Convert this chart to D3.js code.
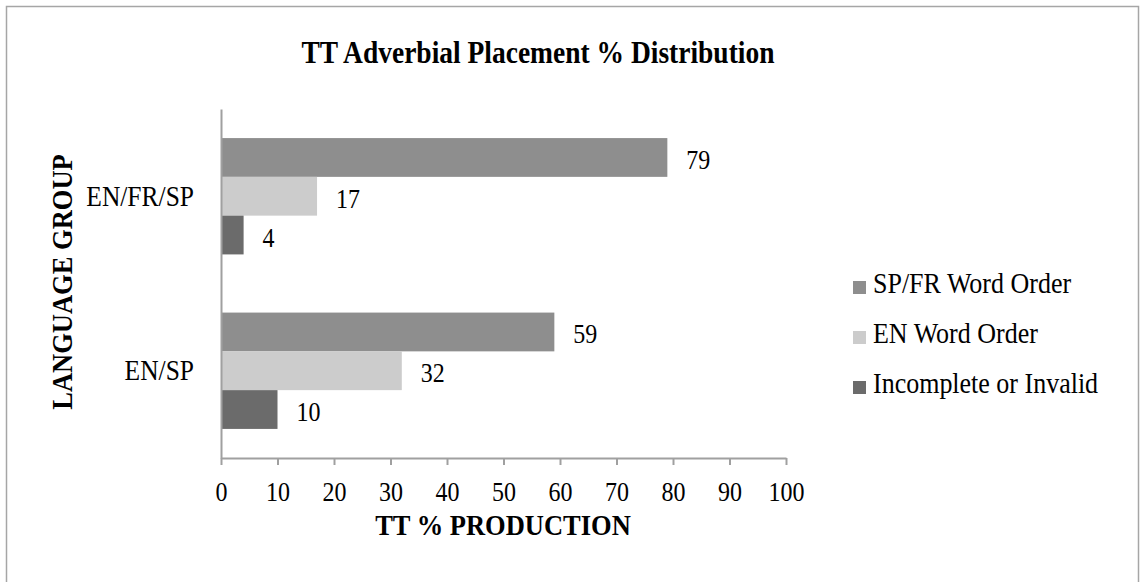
<!DOCTYPE html>
<html>
<head>
<meta charset="utf-8">
<script src="https://cdn.jsdelivr.net/npm/d3@7"></script>
<style>
body{margin:0;background:#fff;}
text{font-family:"Liberation Serif","Times New Roman",serif;fill:#000;}
</style>
</head>
<body>
<div id="chart"></div>
<script>
// data
const groups=["EN/FR/SP","EN/SP"];
const seriesNames=["SP/FR Word Order","EN Word Order","Incomplete or Invalid"];
const spfrValues=[79,59];
const enValues=[17,32];
const incompleteValues=[4,10];
const xTicks=[0,10,20,30,40,50,60,70,80,90,100];
const colors=["#8e8e8e","#cccccc","#6b6b6b"];

const allSeries=[spfrValues,enValues,incompleteValues];

const width=1140;
const height=582;
//text in the original looks a bit taller than wide
const SY=1.15;

const svg=d3.select("#chart")
    .append("svg")
    .attr("width",width)
    .attr("height",height);

//place a text with its baseline at (tx,ty), stretched vertically
function label(tx,ty,str,size,anchor,bold){
    return svg.append("text")
        .attr("transform",`translate(${tx},${ty}) scale(1,${SY})`)
        .attr("text-anchor",anchor)
        .attr("font-size",size)
        .attr("font-weight",bold?"bold":"normal")
        .text(str);
}

//outer chart border
svg.append("rect")
    .attr("x",6.5).attr("y",6.5)
    .attr("width",1132).attr("height",600)
    .attr("fill","none")
    .attr("stroke","#a6a6a6")
    .attr("stroke-width",1.5);

const x=d3.scaleLinear().domain([0,100]).range([221,786]);
const y=d3.scaleBand().domain(groups).range([109,458])
    .paddingInner(1/3).paddingOuter(1/6);
const ySub=d3.scaleBand().domain(seriesNames).range([0,y.bandwidth()]);

//bars, one group per language group
groups.forEach((grp,i)=>{
    seriesNames.forEach((s,j)=>{
        const v=allSeries[j][i];
        svg.append("rect")
            .attr("x",x(0))
            .attr("y",y(grp)+ySub(s))
            .attr("width",x(v)-x(0))
            .attr("height",ySub.bandwidth())
            .attr("fill",colors[j]);
        label(x(v)+19,y(grp)+ySub(s)+ySub.bandwidth()/2+11.5,v,24,"start",false);
    });
});

//x axis
const xAxis=svg.append("g")
    .attr("transform","translate(0,458)")
    .call(d3.axisBottom(x).tickValues(xTicks).tickSize(7).tickSizeOuter(0));
xAxis.select(".domain").attr("stroke","#a0a0a0").attr("stroke-width",2);
xAxis.selectAll(".tick line").attr("stroke","#a0a0a0").attr("stroke-width",2);
xAxis.selectAll(".tick text")
    .attr("font-size",24)
    .attr("font-family","Liberation Serif")
    .attr("fill","#000")
    .attr("dy",0).attr("y",43/SY)
    .attr("transform",`scale(1,${SY})`);

//y axis (no ticks)
const yAxis=svg.append("g")
    .attr("transform","translate(221,0)")
    .call(d3.axisLeft(y).tickSize(0).tickPadding(27));
yAxis.select(".domain").attr("stroke","#a0a0a0").attr("stroke-width",2);
yAxis.selectAll(".tick text")
    .attr("font-size",25.5)
    .attr("font-family","Liberation Serif")
    .attr("fill","#000")
    .attr("dy","0.33em")
    .attr("transform",`scale(1,${SY})`);

//titles
label(538,63,"TT Adverbial Placement % Distribution",27.5,"middle",true);
label(503,535,"TT % PRODUCTION",26.5,"middle",true);

svg.append("text")
    .attr("transform","translate(72,282) rotate(-90) scale(1,1.08)")
    .attr("text-anchor","middle")
    .attr("font-size",26.5)
    .attr("font-weight","bold")
    .text("LANGUAGE GROUP");

//legend
const legendY=[293,343,393];
seriesNames.forEach((s,i)=>{
    svg.append("rect")
        .attr("x",853)
        .attr("y",legendY[i]-12)
        .attr("width",13).attr("height",13)
        .attr("fill",colors[i]);
    label(873,legendY[i],s,26,"start",false);
});
</script>
</body>
</html>
